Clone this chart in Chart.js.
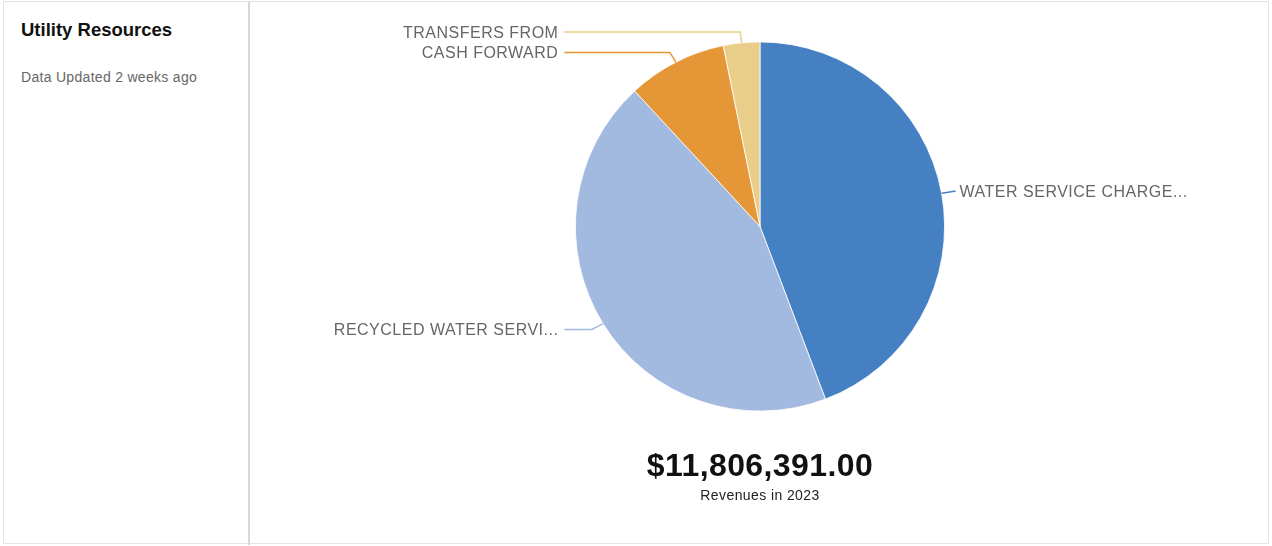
<!DOCTYPE html>
<html>
<head>
<meta charset="utf-8">
<script src="https://cdn.jsdelivr.net/npm/chart.js@4.4.1/dist/chart.umd.min.js"></script>
<style>
  html, body { margin: 0; padding: 0; background: #fff; }
  body { width: 1272px; height: 546px; position: relative; overflow: hidden; font-family: "Liberation Sans", Arial, sans-serif; }
  #frame { position: absolute; left: 3px; top: 1px; width: 1266px; height: 543px; border: 1px solid #e4e4e4; box-sizing: border-box; }
  #divider { position: absolute; left: 248px; top: 2px; width: 2px; height: 543px; background: #d3d8de; }
  #title { position: absolute; left: 21px; top: 19px; font-size: 18.5px; font-weight: bold; color: #111; line-height: 22px; }
  #sub { position: absolute; left: 21px; top: 69px; font-size: 14px; letter-spacing: 0.3px; color: #666; line-height: 16px; }
  #wrap { position: absolute; left: 250px; top: 0; width: 1020px; height: 546px; }
  #total { position: absolute; left: 250px; width: 1020px; top: 446px; text-align: center; font-size: 32px; font-weight: bold; color: #111; line-height: 38px; letter-spacing: 0.4px; }
  #cap { position: absolute; left: 250px; width: 1020px; top: 487px; text-align: center; font-size: 14px; letter-spacing: 0.4px; color: #222; line-height: 16px; }
</style>
</head>
<body>
<div id="frame"></div>
<div id="divider"></div>
<div id="title">Utility Resources</div>
<div id="sub">Data Updated 2 weeks ago</div>
<div id="wrap"><canvas id="c"></canvas></div>
<div id="total"></div>
<div id="cap">Revenues in 2023</div>
<script>
const categories = ["WATER SERVICE CHARGE...", "RECYCLED WATER SERVI...", "CASH FORWARD", "TRANSFERS FROM"];
const revenues = [5222000, 5182000, 1026000, 376391];
const sliceColors = ["#4581c2", "#a3bae0", "#e59637", "#e9ce8a"];
const totalLabel = "$11,806,391.00";

document.getElementById('total').textContent = totalLabel;

const leaderLabels = {
  id: 'leaderLabels',
  afterDatasetsDraw(chart) {
    const ctx = chart.ctx;
    const meta = chart.getDatasetMeta(0);
    ctx.save();
    ctx.font = '16px "Liberation Sans", Arial, sans-serif';
    if ('letterSpacing' in ctx) ctx.letterSpacing = '0.5px';
    meta.data.forEach((arc, i) => {
      const p = arc.getProps(['x', 'y', 'startAngle', 'endAngle', 'outerRadius'], true);
      const mid = (p.startAngle + p.endAngle) / 2;
      const r = p.outerRadius;
      const ex = p.x + r * Math.cos(mid);
      const ey = p.y + r * Math.sin(mid);
      const ly = p.y + (r + 11) * Math.sin(mid);
      const right = Math.cos(mid) >= 0;
      let bx = p.x + (r + 13) * Math.cos(mid);
      let endX;
      if (right) { endX = p.x + r + 11; bx = Math.min(bx, endX); }
      else { endX = p.x - r - 11; bx = Math.max(bx, endX); }
      ctx.strokeStyle = sliceColors[i];
      ctx.lineWidth = 1.5;
      ctx.beginPath();
      ctx.moveTo(ex, ey);
      ctx.lineTo(bx, ly);
      ctx.lineTo(endX, ly);
      ctx.stroke();
      ctx.fillStyle = '#666';
      ctx.textBaseline = 'alphabetic';
      ctx.textAlign = right ? 'left' : 'right';
      const tx = right ? p.x + r + 15 : p.x - r - 17;
      ctx.fillText(categories[i], tx, ly + 6);
    });
    ctx.restore();
  }
};

new Chart(document.getElementById('c'), {
  type: 'pie',
  data: {
    labels: categories,
    datasets: [{
      data: revenues,
      backgroundColor: sliceColors,
      borderColor: '#ffffff',
      borderWidth: 0.8,
      hoverOffset: 0
    }]
  },
  options: {
    responsive: true,
    maintainAspectRatio: false,
    animation: false,
    layout: { padding: { top: 41.5, bottom: 134.5, left: 0, right: 0 } },
    plugins: {
      legend: { display: false },
      tooltip: { enabled: false },
      title: { display: false }
    }
  },
  plugins: [leaderLabels]
});
</script>
</body>
</html>
